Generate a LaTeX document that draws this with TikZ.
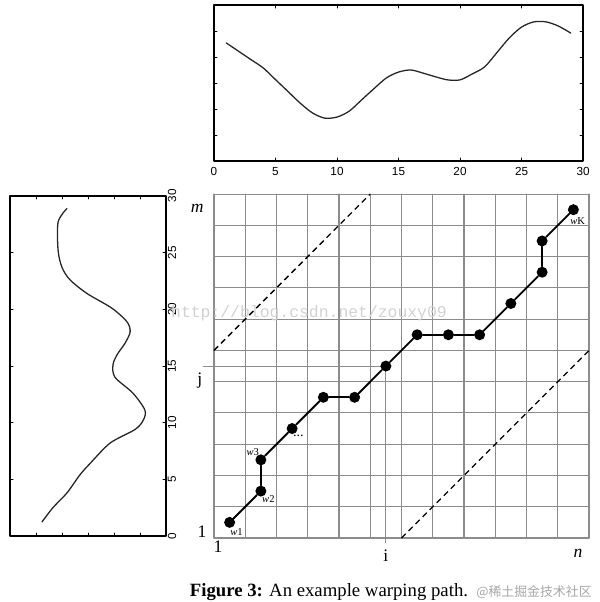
\documentclass[tikz,border=0pt]{standalone}
\usepackage{fontspec}
\setmainfont{Liberation Serif}
\setsansfont{Liberation Sans}
\setmonofont{Liberation Mono}
\newfontfamily\cjkfont{Noto Sans CJK SC}
\usetikzlibrary{backgrounds}

\begin{document}
\begin{tikzpicture}[x=0.03cm,y=-0.03cm,line cap=round,line join=round,
  every node/.style={inner sep=1pt},
  frame/.style={line width=1.6pt},
  curve/.style={line width=1.1pt,black!85},
  tick/.style={line width=0.6pt},
  ticklbl/.style={font=\sffamily\fontsize{10}{12}\selectfont,inner sep=0pt},
  gridline/.style={line width=0.9pt,black!45},
  band/.style={line width=1.1pt,dash pattern=on 5pt off 3.5pt,line cap=butt},
  pathline/.style={line width=1.6pt},
  dot/.style={circle,fill=black,minimum size=0.33cm,inner sep=0pt},
  axlbl/.style={font=\fontsize{15}{18}\selectfont,inner sep=0pt},
  wlbl/.style={font=\fontsize{9}{10}\selectfont,inner sep=0pt}]
  \useasboundingbox (0,0) rectangle (600,602);
  \begin{scope}[shift={(214,161)},x=0.369cm,y=0.78cm]
    \draw[curve] plot[smooth,tension=0.5] coordinates {(1,4.54) (2,4.22) (3,3.90) (4,3.58) (5,3.13) (6,2.68) (7,2.23) (8,1.85) (9,1.65) (10,1.69) (11,1.92) (12,2.35) (13,2.78) (14,3.19) (15,3.42) (16,3.5) (17,3.38) (18,3.24) (19,3.12) (20,3.12) (21,3.35) (22,3.62) (23,4.17) (24,4.73) (25,5.15) (26,5.35) (27,5.35) (28,5.19) (29,4.92)};
    \foreach \t in {5,10,...,25} {
      \draw[tick] (\t,0) -- (\t,0.12);
      \draw[tick] (\t,6) -- (\t,5.88);
    }
    \foreach \v in {1,...,5} {
      \draw[tick] (0,\v) -- (0.25,\v);
      \draw[tick] (30,\v) -- (29.75,\v);
    }
    \draw[frame] (0,0) rectangle (30,6);
    \foreach \t in {0,5,...,30}
      \node[ticklbl] (tx\t) at (\t,-0.42) {\t};
  \end{scope}
  \begin{scope}[shift={(10,536)},x=0.78cm,y=0.34cm]
    \draw[curve] plot[smooth,tension=0.5] coordinates {(1.23,1.24) (1.65,2.5) (2.19,3.8) (2.69,5.4) (3.08,6.4) (3.85,8.2) (4.81,9.4) (5.12,10.2) (5.19,11.1) (4.73,12.6) (4.04,14.0) (3.96,15.1) (4.12,16.0) (4.42,17.0) (4.62,18.0) (4.5,18.9) (3.92,20.1) (2.96,21.4) (2.31,22.6) (2.0,23.7) (1.85,25.2) (1.85,27.7) (2.19,28.9)};
    \foreach \v in {1,...,5} {
      \draw[tick] (\v,0) -- (\v,0.26);
      \draw[tick] (\v,30) -- (\v,29.74);
    }
    \foreach \t in {5,10,...,25} {
      \draw[tick] (0,\t) -- (0.12,\t);
      \draw[tick] (6,\t) -- (5.88,\t);
    }
    \draw[frame] (0,0) rectangle (6,30);
    \foreach \t in {0,5,...,30}
      \node[ticklbl,rotate=90] (ty\t) at (6.23,\t) {\t};
  \end{scope}
  \begin{scope}[shift={(214,538)},x=0.9375cm,y=0.938cm]
    \foreach \c in {0,...,12}
      \draw[gridline] (\c,0) -- (\c,11);
    \foreach \r in {0,...,11}
      \draw[gridline] (0,\r) -- (12,\r);
    \draw[band] (0,6) -- (5,11);
    \draw[band] (6,0) -- (12,6);
    \foreach \i/\j [count=\k] in {1/1,2/2,2/3,3/4,4/5,5/5,6/6,7/7,8/7,9/7,10/8,11/9,11/10,12/11}
      \node[dot] (w\k) at (\i-0.5,\j-0.5) {};
    \foreach \k [remember=\k as \prev (initially 1)] in {2,...,14}
      \draw[pathline] (w\prev) -- (w\k);
    \coordinate (jstart) at (-0.35,5.5);
    \coordinate (iend) at (5.5,-0.16);
    \begin{scope}[on background layer]
      \draw[gridline] (jstart) -- (w7.center) -- (iend);
    \end{scope}
    \node[wlbl] (w1lbl) at ([shift={(0.22,-0.32)}]w1) {\textit{w}1};
    \node[wlbl] (w2lbl) at ([shift={(0.24,-0.26)}]w2) {\textit{w}2};
    \node[wlbl] (w3lbl) at ([shift={(-0.26,0.24)}]w3) {\textit{w}3};
    \node[wlbl,font=\fontsize{12}{12}\selectfont] (w4lbl) at ([shift={(0.2,-0.22)}]w4) {...};
    \node[wlbl] (wKlbl) at ([shift={(0.14,-0.38)}]w14) {\textit{w}K};
    \node[axlbl] (mlbl) at (-0.54,10.55) {\textit{m}};
    \node[axlbl] (jlbl) at (-0.45,5.05) {j};
    \node[axlbl] (rowone) at (-0.38,0.19) {1};
    \node[axlbl] (colone) at (0.13,-0.29) {1};
    \node[axlbl] (ilbl) at (5.5,-0.58) {i};
    \node[axlbl] (nlbl) at (11.65,-0.48) {\textit{n}};
  \end{scope}
  \node[font=\ttfamily\fontsize{14}{16}\selectfont,text=black!18] (url) at (309,313) {http://blog.csdn.net/zouxy09};
  \node[font=\fontsize{16}{19}\selectfont] (caption) at (329,592) {\textbf{Figure 3:} An example warping path.};
  \node[font=\cjkfont\fontsize{11}{13}\selectfont,text=black!35] (mark) at (534,592) {@稀土掘金技术社区};
\end{tikzpicture}
\end{document}
